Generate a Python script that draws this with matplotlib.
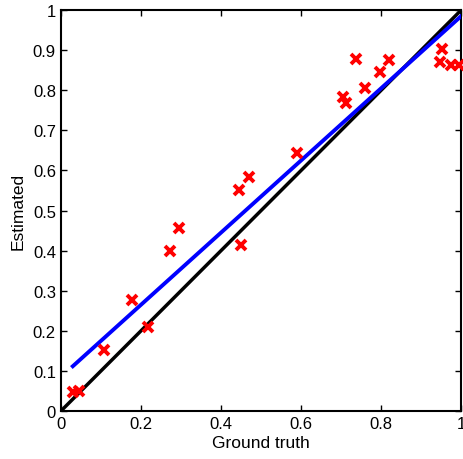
import numpy as np
import matplotlib.pyplot as plt

plt.rcParams['font.family'] = ['Liberation Sans', 'DejaVu Sans']

# ground truth vs estimated values
ground_truth = [0.030, 0.045, 0.107, 0.177, 0.217, 0.272, 0.294, 0.446, 0.469, 0.451,
                0.589, 0.706, 0.713, 0.738, 0.760, 0.798, 0.820, 0.948, 0.953, 0.975, 0.995]
estimated = [0.047, 0.050, 0.152, 0.277, 0.210, 0.400, 0.457, 0.551, 0.584, 0.414,
             0.643, 0.783, 0.768, 0.878, 0.805, 0.845, 0.875, 0.870, 0.903, 0.863, 0.863]

# fitted line endpoints
fit_x = [0.03, 1.0]
fit_y = [0.112, 0.985]

# identity line
ident = [0, 1]

xticks = np.arange(0, 1.01, 0.2)
yticks = np.arange(0, 1.01, 0.1)

fig = plt.figure(figsize=(4.64, 4.60), dpi=100)
ax = fig.add_axes([0.131, 0.104, 0.863, 0.872])

ax.plot(ident, ident, color='black', lw=2.5, zorder=2)
ax.plot(fit_x, fit_y, color='blue', lw=2.8, zorder=3)
ax.plot(ground_truth, estimated, 'x', color='red', ms=6.5, mew=2.8, zorder=4, clip_on=False)

ax.set_xlim(0, 1)
ax.set_ylim(0, 1)
ax.set_xticks(xticks)
ax.set_yticks(yticks)
ax.set_xticklabels(['0', '0.2', '0.4', '0.6', '0.8', '1'])
ax.set_yticklabels(['0', '0.1', '0.2', '0.3', '0.4', '0.5', '0.6', '0.7', '0.8', '0.9', '1'])
ax.tick_params(direction='in', top=True, right=True, length=4, width=1, labelsize=12)
for s in ax.spines.values():
    s.set_linewidth(1.5)

ax.set_xlabel('Ground truth', fontsize=12.5, labelpad=3)
ax.set_ylabel('Estimated', fontsize=12.5, labelpad=5)

plt.savefig('out.png', dpi=100)
